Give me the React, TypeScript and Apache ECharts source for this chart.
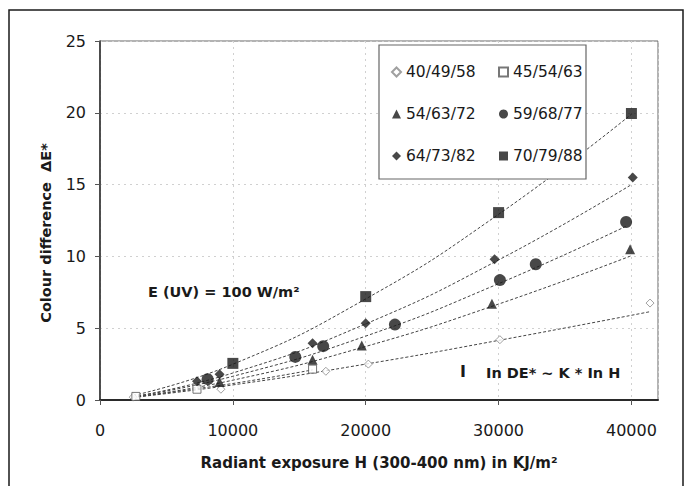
import React, { useEffect, useRef } from "react";
import * as echarts from "echarts";

// ---- data ----
const seriesNames = ["40/49/58", "45/54/63", "54/63/72", "59/68/77", "64/73/82", "70/79/88"];
const legendCol1 = ["40/49/58", "54/63/72", "64/73/82"];
const legendCol2 = ["45/54/63", "59/68/77", "70/79/88"];

const xTicks = [0, 10000, 20000, 30000, 40000];
const yTicks = [0, 5, 10, 15, 20, 25];

// measured points [H, dE]
const pts4049 = [[2500, 0.2], [9100, 0.75], [17000, 2.0], [20200, 2.5], [30100, 4.2], [41400, 6.75]];
const pts4554 = [[2700, 0.25], [7300, 0.75], [16000, 2.15]];
const pts5463 = [[9000, 1.25], [16000, 2.8], [19700, 3.8], [29500, 6.7], [39900, 10.5]];
const pts5968 = [[8100, 1.45], [14700, 3.0], [16800, 3.75], [22200, 5.25], [30100, 8.35], [32800, 9.45], [39600, 12.4]];
const pts6473 = [[7300, 1.3], [9000, 1.8], [16000, 3.95], [20000, 5.35], [29700, 9.8], [40100, 15.5]];
const pts7079 = [[10000, 2.55], [20000, 7.2], [30000, 13.05], [40000, 19.95]];

// fitted trend lines
const fit4049 = [[2500, 0.18], [10000, 1.05], [20000, 2.5], [30000, 4.15], [41400, 6.15]];
const fit4554 = [[2500, 0.2], [10000, 1.15], [16000, 2.1]];
const fit5463 = [[2500, 0.19], [10000, 1.38], [20000, 3.73], [30000, 6.68], [40000, 10.05]];
const fit5968 = [[2500, 0.22], [10000, 1.65], [20000, 4.45], [30000, 8.1], [39600, 12.1]];
const fit6473 = [[2500, 0.23], [10000, 1.88], [20000, 5.3], [30000, 9.75], [40000, 15.0]];
const fit7079 = [[2500, 0.31], [10000, 2.49], [20000, 7.04], [30000, 12.93], [40000, 19.9]];

const pointSets = [pts4049, pts4554, pts5463, pts5968, pts6473, pts7079];
const fitSets = [fit4049, fit4554, fit5463, fit5968, fit6473, fit7079];

const markerStyles = [
  { symbol: "diamond", size: 8, itemStyle: { color: "#fff", borderColor: "#888", borderWidth: 1 } },
  { symbol: "rect", size: 8, itemStyle: { color: "#fff", borderColor: "#555", borderWidth: 1 } },
  { symbol: "triangle", size: 10, itemStyle: { color: "#1a1a1a" } },
  { symbol: "circle", size: 12, itemStyle: { color: "#1a1a1a" } },
  { symbol: "diamond", size: 10, itemStyle: { color: "#1a1a1a" } },
  { symbol: "rect", size: 11, itemStyle: { color: "#1a1a1a" } },
];

const TICK_FONT = '"DejaVu Sans", sans-serif';

export default function App() {
  const ref = useRef<HTMLDivElement>(null);
  useEffect(() => {
    if (!ref.current) return;
    const chart = echarts.init(ref.current, undefined, { renderer: "svg" });
    const series: any[] = [];
    fitSets.forEach((d, i) => {
      series.push({
        type: "line",
        name: seriesNames[i] + " fit",
        data: d,
        smooth: true,
        showSymbol: false,
        symbol: "none",
        lineStyle: { color: "#444", width: 1, type: [3, 2] },
        z: 2,
        silent: true,
      });
    });
    pointSets.forEach((d, i) => {
      series.push({
        type: "scatter",
        name: seriesNames[i],
        data: d,
        symbol: markerStyles[i].symbol,
        symbolSize: markerStyles[i].size,
        itemStyle: markerStyles[i].itemStyle,
        z: 3,
      });
    });
    const legendBase = {
      orient: "vertical",
      itemWidth: 9,
      itemHeight: 9,
      itemGap: 26,
      textStyle: { fontFamily: TICK_FONT, fontSize: 15.5, color: "#1a1a1a" },
      z: 10,
      selectedMode: false,
      padding: 0,
    };
    chart.setOption({
      animation: false,
      backgroundColor: "#fff",
      grid: { left: 100, right: 35, top: 41, bottom: 86, show: true, borderColor: "#666", borderWidth: 1, backgroundColor: "transparent" },
      legend: [
        { ...legendBase, data: legendCol1, left: 391, top: 64 },
        { ...legendBase, data: legendCol2, left: 498, top: 64 },
      ],
      xAxis: {
        type: "value",
        min: 0,
        max: 42000,
        interval: 10000,
        axisLine: { show: true, onZero: false, lineStyle: { color: "#2a2a2a", width: 2 } },
        axisTick: { show: true, length: 5, lineStyle: { color: "#555" } },
        axisLabel: {
          showMaxLabel: false,
          margin: 22,
          fontFamily: TICK_FONT,
          fontSize: 16,
          color: "#1a1a1a",
          formatter: (v: number) => (xTicks.includes(v) ? String(v) : ""),
        },
        splitLine: { show: true, lineStyle: { color: "#d0d0d0", type: [2, 4], width: 1 } },
      },
      yAxis: {
        type: "value",
        min: 0,
        max: 25,
        interval: 5,
        axisLine: { show: true, lineStyle: { color: "#2a2a2a", width: 1.5 } },
        axisTick: { show: true, length: 5, lineStyle: { color: "#555" } },
        axisLabel: {
          margin: 14,
          fontFamily: TICK_FONT,
          fontSize: 16,
          color: "#1a1a1a",
          formatter: (v: number) => (yTicks.includes(v) ? String(v) : ""),
        },
        splitLine: { show: true, lineStyle: { color: "#d0d0d0", type: [2, 4], width: 1 } },
      },
      graphic: [
        {
          type: "rect",
          shape: { x: 9, y: 10, width: 674, height: 520 },
          style: { fill: "none", stroke: "#1a1a1a", lineWidth: 1.5 },
          z: 0,
          silent: true,
        },
        {
          type: "rect",
          shape: { x: 379, y: 45, width: 207, height: 134 },
          style: { fill: "#fff", stroke: "#666", lineWidth: 1.2 },
          z: 5,
          silent: true,
        },
        {
          type: "text",
          x: 46,
          y: 233,
          rotation: Math.PI / 2,
          style: {
            text: "Colour difference  ΔE*",
            font: 'bold 14.5px "DejaVu Sans", sans-serif',
            fill: "#1a1a1a",
            align: "center",
            verticalAlign: "middle",
          },
          z: 10,
        },
        {
          type: "text",
          x: 379,
          y: 463,
          style: {
            text: "Radiant exposure H (300-400 nm) in KJ/m²",
            font: 'bold 15px "DejaVu Sans", sans-serif',
            fill: "#1a1a1a",
            align: "center",
            verticalAlign: "middle",
          },
          z: 10,
        },
        {
          type: "text",
          x: 148,
          y: 292,
          style: {
            text: "E (UV) = 100 W/m²",
            font: 'bold 14.5px "DejaVu Sans", sans-serif',
            fill: "#1a1a1a",
            align: "left",
            verticalAlign: "middle",
          },
          z: 10,
        },
        {
          type: "text",
          x: 460,
          y: 371,
          style: {
            text: "I",
            font: 'bold 16px "DejaVu Sans", sans-serif',
            fill: "#1a1a1a",
            align: "left",
            verticalAlign: "middle",
          },
          z: 10,
        },
        {
          type: "text",
          x: 486,
          y: 373,
          style: {
            text: "In DE* ~ K * In H",
            font: 'bold 14.5px "DejaVu Sans", sans-serif',
            fill: "#1a1a1a",
            align: "left",
            verticalAlign: "middle",
          },
          z: 10,
        },
      ],
      series,
    });
    return () => chart.dispose();
  }, []);
  return <div ref={ref} style={{ position: "fixed", left: 0, top: 0, width: 693, height: 486 }} />;
}
